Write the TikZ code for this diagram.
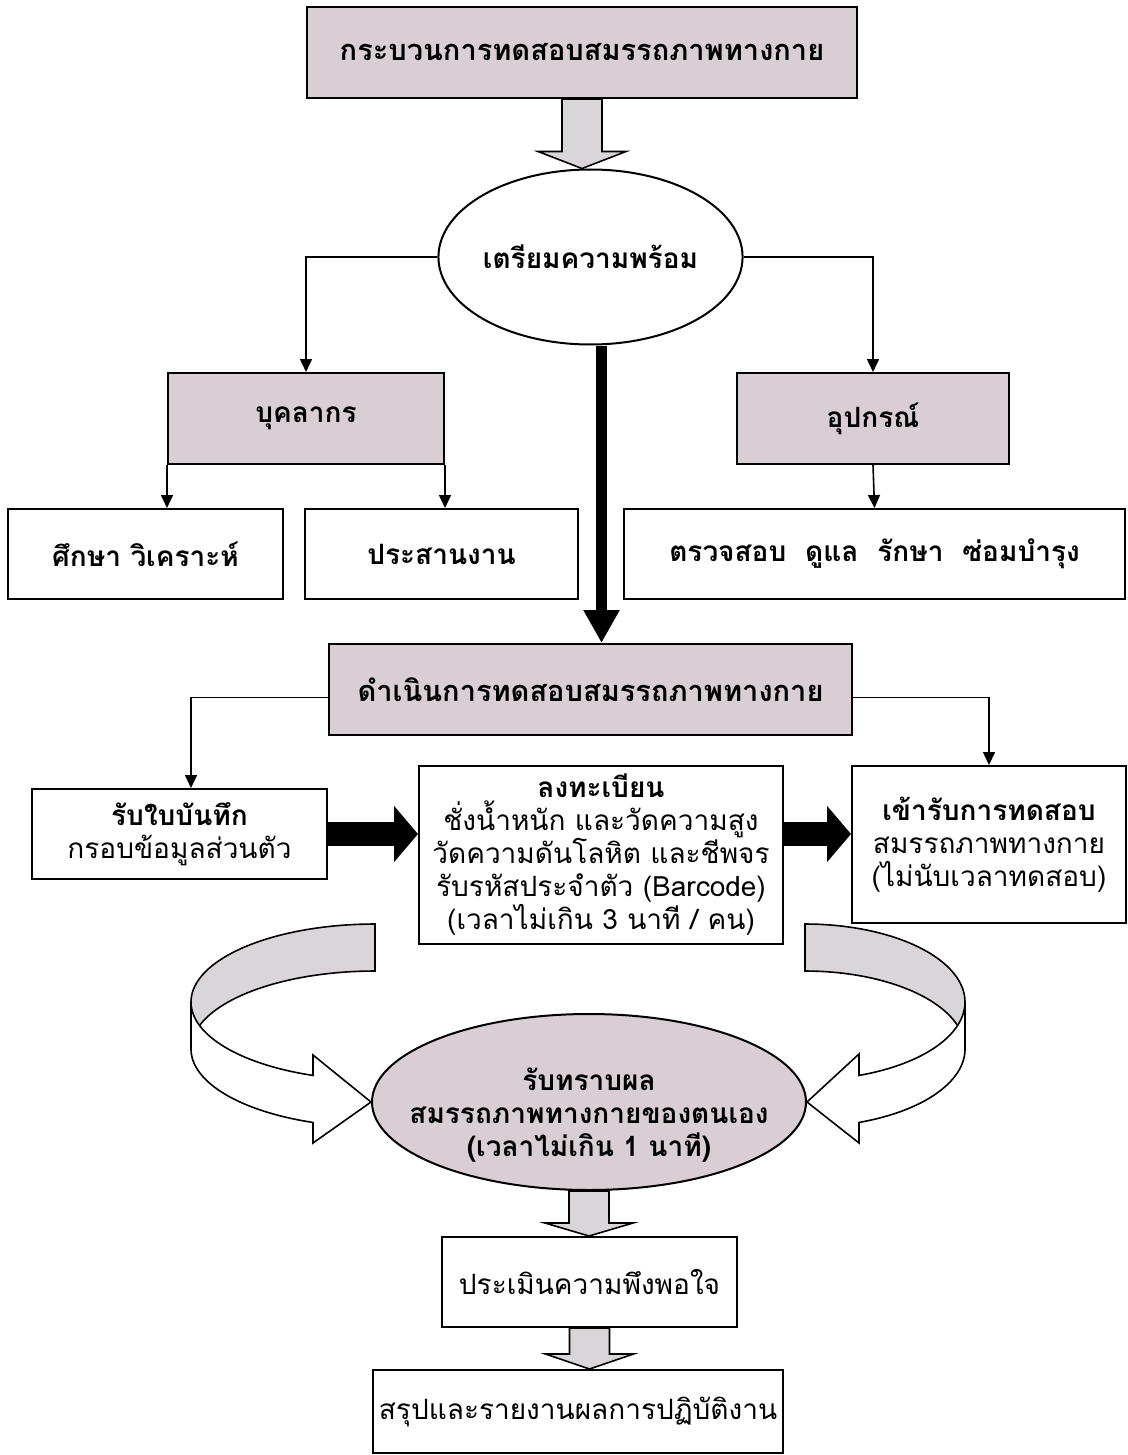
\documentclass[tikz,border=0pt]{standalone}
\usepackage{fontspec}
\newfontfamily\thaifont[Script=Thai]{Loma}
\usetikzlibrary{shapes.geometric,arrows.meta,calc}
\definecolor{boxgray}{RGB}{216,206,212}
\definecolor{ribbon}{RGB}{218,213,216}
\newcommand{\fatdown}[3]{%
  \path[draw, fill=ribbon, line width=0.8pt] let \p1=#1, \p2=#2 in
    (\x1-10pt,\y1) -- (\x1-10pt,\y2+#3) -- (\x1-22pt,\y2+#3) -- (\x1,\y2)
    -- (\x1+22pt,\y2+#3) -- (\x1+10pt,\y2+#3) -- (\x1+10pt,\y1) -- cycle;}
\begin{document}
\begin{tikzpicture}[x=0.5pt, y=-0.5pt,
    every node/.style={font=\thaifont\fontsize{14}{16.5}\selectfont, inner sep=2pt},
    box/.style={draw, line width=1pt, rectangle, align=center},
    greybox/.style={box, fill=boxgray},
    oval/.style={draw, line width=1pt, ellipse, align=center, inner sep=0pt},
    link/.style={line width=0.8pt, -{Triangle[length=6.5pt,width=6pt]}},
    blockarrow/.style={line width=12pt, -{Triangle[length=12pt,width=27.5pt]}}]
    \useasboundingbox (0,0) rectangle (1128,1455);
    \node[greybox, minimum width=275pt, minimum height=45.5pt, font=\thaifont\fontsize{14.5}{17}\selectfont] (title) at (582,52.5) {\bfseries กระบวนการทดสอบสมรรถภาพทางกาย};
    \node[oval, minimum width=147.5pt, minimum height=87.5pt] (prep) at (590.5,257) {\bfseries เตรียมความพร้อม};
    \node[greybox, minimum width=138pt, minimum height=45.5pt] (staff) at (306,418.5) {\bfseries บุคลากร};
    \node[greybox, minimum width=136pt, minimum height=45.5pt] (equip) at (873,418.5) {\bfseries อุปกรณ์};
    \node[box, minimum width=137.5pt, minimum height=45pt] (study) at (145.5,554) {\bfseries ศึกษา วิเคราะห์};
    \node[box, minimum width=136.5pt, minimum height=45pt] (coord) at (441.5,554) {\bfseries ประสานงาน};
    \node[box, minimum width=250.5pt, minimum height=45pt] (maint) at (874.5,554) {\bfseries ตรวจสอบ\ \ ดูแล\ \ รักษา\ \ ซ่อมบำรุง};
    \node[greybox, minimum width=261.5pt, minimum height=45.5pt, font=\thaifont\fontsize{14.5}{17}\selectfont] (run) at (590.5,689.5) {\bfseries ดำเนินการทดสอบสมรรถภาพทางกาย};
    \node[box, minimum width=147.5pt, minimum height=45pt] (record) at (179.5,834) {\bfseries รับใบบันทึก\\กรอบข้อมูลส่วนตัว};
    \node[box, minimum width=182pt, minimum height=89pt] (register) at (601,855) {\bfseries ลงทะเบียน\\ชั่งน้ำหนัก และวัดความสูง\\วัดความดันโลหิต และชีพจร\\รับรหัสประจำตัว (Barcode)\\(เวลาไม่เกิน 3 นาที / คน)};
    \node[box, minimum width=137pt, minimum height=78.5pt] (test) at (989,844.5) {\bfseries เข้ารับการทดสอบ\\สมรรถภาพทางกาย\\(ไม่นับเวลาทดสอบ)};
    \node[oval, fill=boxgray, minimum width=217pt, minimum height=88pt,
      label={[align=center, yshift=-6.5pt, font=\thaifont\fontsize{14}{16.5}\selectfont\bfseries]center:รับทราบผล\\สมรรถภาพทางกายของตนเอง\\(เวลาไม่เกิน 1 นาที)}] (result) at (589,1102) {};
    \node[box, minimum width=147.5pt, minimum height=45pt] (assess) at (589.5,1282) {ประเมินความพึงพอใจ};
    \node[box, minimum width=205pt, minimum height=41.5pt] (report) at (578,1411.5) {สรุปและรายงานผลการปฏิบัติงาน};
    \fatdown{(title.south)}{(prep.north)}{8.5pt}
    \fatdown{(result.south)}{(assess.north)}{6.5pt}
    \fatdown{(assess.south)}{(report.north)}{7.5pt}
    \draw[link] (prep.west) -| (staff.north);
    \draw[link] (prep.east) -| (equip.north);
    \draw[link] (staff.south west) -- (staff.south west |- study.north);
    \draw[link] (staff.south east) -- (staff.south east |- coord.north);
    \draw[link] (equip.south) -- (maint.north);
    \draw[line width=5.5pt, -{Triangle[length=16.5pt,width=17pt]}] ([xshift=5.5pt]prep.south) -- ([xshift=5.5pt]run.north);
    \draw[link] ([yshift=-4pt]run.west) -| ([xshift=5.75pt]record.north);
    \draw[link] ([yshift=-4pt]run.east) -| (test.north);
    \draw[blockarrow] (record.east) -- (register.west |- record.east);
    \draw[blockarrow] (register.east |- record.east) -- (test.west |- record.east);
    % curved arrows round the result
    \filldraw[line width=0.8pt, fill=ribbon] plot[domain=90:180, samples=40] ({375+184*cos(\x)},{1002-78*sin(\x)}) -- (191,1049) -- plot[domain=180:90, samples=40] ({375+184*cos(\x)},{1049-78*sin(\x)}) -- cycle;
    \filldraw[line width=0.8pt, fill=white] plot[domain=180:250.3, samples=40] ({375+184*cos(\x)},{1002-78*sin(\x)}) -- (313,1055) -- (result.west) -- (313,1143) -- (313,1122) -- plot[domain=250.3:180, samples=40] ({375+184*cos(\x)},{1049-78*sin(\x)}) -- cycle;
    \filldraw[line width=0.8pt, fill=ribbon] plot[domain=90:0, samples=40] ({805+160*cos(\x)},{1002-78*sin(\x)}) -- (965,1049) -- plot[domain=0:90, samples=40] ({805+160*cos(\x)},{1049-78*sin(\x)}) -- cycle;
    \filldraw[line width=0.8pt, fill=white] plot[domain=0:-70.3, samples=40] ({805+160*cos(\x)},{1002-78*sin(\x)}) -- (859,1054) -- (result.east) -- (859,1143) -- (859,1122) -- plot[domain=-70.3:0, samples=40] ({805+160*cos(\x)},{1049-78*sin(\x)}) -- cycle;
\end{tikzpicture}
\end{document}
